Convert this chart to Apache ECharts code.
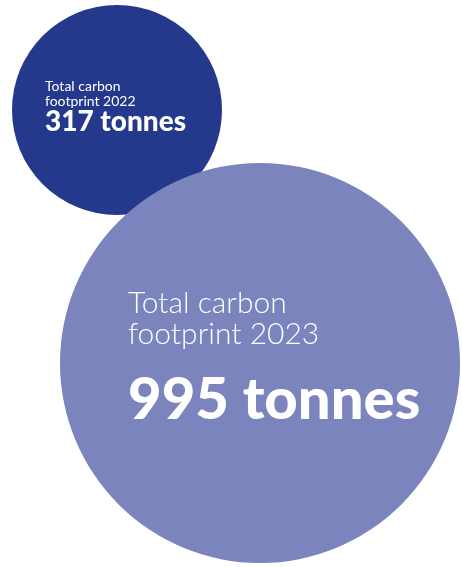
<!DOCTYPE html>
<html>
<head>
<meta charset="utf-8">
<script src="https://cdn.jsdelivr.net/npm/echarts@6/dist/echarts.min.js"></script>
<style>
html,body{margin:0;padding:0;background:#ffffff;}
#chart{width:462px;height:567px;}
</style>
</head>
<body>
<div id="chart"></div>
<script>
// ---- data ----
const years = ['2022', '2023'];
const footprintTonnes = [317, 995];
const labelTop = 'Total carbon';
const labelMid = 'footprint';
const unit = 'tonnes';

// ---- layout (bubble centres in hidden-axis units) ----
const centreX = [117, 260];
const centreY = [110, 363];

const chart = echarts.init(document.getElementById('chart'));

const seriesData = years.map((y, i) => ({
  value: [centreX[i], centreY[i], footprintTonnes[i]],
  label: {
    position: i === 0 ? [33, 74] : [68, 125],
    formatter: i === 0
      ? '{s|' + labelTop + '}\n{s|' + labelMid + ' ' + y + '}\n{sb|' + footprintTonnes[i] + ' ' + unit + '}'
      : '{l|' + labelTop + '}\n{l|' + labelMid + ' ' + y + '}\n{lb|' + footprintTonnes[i] + ' ' + unit + '}'
  }
}));

chart.setOption({
  animation: false,
  backgroundColor: '#ffffff',
  grid: { left: 0, right: 0, top: 0, bottom: 0 },
  xAxis: { type: 'value', min: 0, max: 462, show: false },
  yAxis: { type: 'value', min: 0, max: 567, inverse: true, show: false },
  visualMap: {
    show: false,
    dimension: 2,
    min: footprintTonnes[0],
    max: footprintTonnes[1],
    inRange: {
      symbolSize: [210, 400],
      color: ['#24398c', '#7c84be']
    }
  },
  series: [{
    type: 'scatter',
    symbol: 'circle',
    data: seriesData,
    itemStyle: { opacity: 1 },
    emphasis: { disabled: true },
    label: {
      show: true,
      align: 'left',
      verticalAlign: 'top',
      color: '#ffffff',
      rich: {
        s: { fontFamily: 'Lato', fontSize: 14, fontWeight: 400, lineHeight: 15, color: '#ffffff' },
        sb: { fontFamily: 'Lato', fontSize: 28, fontWeight: 900, lineHeight: 26, color: '#ffffff' },
        l: { fontFamily: 'Lato', fontSize: 30, fontWeight: 300, lineHeight: 31, color: '#ffffff' },
        lb: { fontFamily: 'Lato', fontSize: 58, fontWeight: 900, lineHeight: 100, color: '#ffffff' }
      }
    }
  }]
});
</script>
</body>
</html>
